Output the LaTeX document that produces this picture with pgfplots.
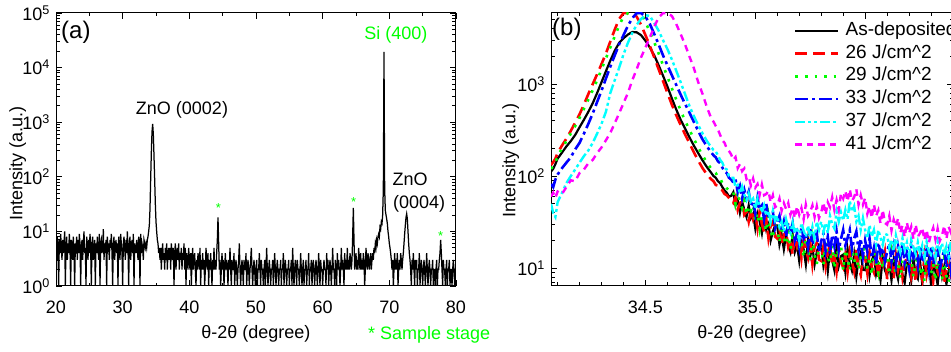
\documentclass[border=0pt]{standalone}
\usepackage{pgfplots}
\usepackage{pgfplotstable}
\pgfplotsset{compat=1.18}
\usepackage{fontspec}
\setmainfont{Liberation Sans}
\definecolor{sgreen}{RGB}{0,255,0}
\definecolor{sred}{RGB}{255,0,0}
\definecolor{sblue}{RGB}{0,0,255}
\definecolor{scyan}{RGB}{0,255,255}
\definecolor{smag}{RGB}{255,0,255}

\pgfplotstableread{
x a b c d e f
34.07 112 132 120 82 50 60
34.08 120 142 128 76 40 66
34.09 135 155 140 92 36 58
34.10 155 178 165 104 52 68
34.12 180 215 200 122 66 64
34.14 210 255 240 140 84 76
34.16 240 310 290 160 100 90
34.18 280 380 350 195 118 88
34.20 340 470 430 230 140 108
34.22 410 600 540 290 165 118
34.24 500 780 680 370 190 138
34.26 620 1000 860 480 230 150
34.28 800 1280 1100 640 290 178
34.30 1050 1650 1450 850 370 205
34.32 1380 2150 1900 1150 500 245
34.34 1800 2900 2500 1550 800 295
34.36 2300 3900 3300 2050 1100 375
34.38 2800 5100 4300 2700 1500 480
34.40 3150 5900 5400 3400 2100 620
34.42 3450 5900 5900 4300 2800 800
34.44 3680 5900 5900 5200 3600 1100
34.46 3650 5400 5900 5900 4400 1450
34.48 3400 4400 5900 5900 5100 1950
34.50 2950 3400 4700 5400 5600 2500
34.52 2500 2600 3700 4500 5500 3200
34.54 2050 1950 2850 3500 4600 4200
34.56 1600 1450 2150 2700 3800 5300
34.58 1230 1080 1600 2050 3000 5900
34.60 940 800 1200 1600 2400 5900
34.62 700 600 900 1250 1850 5500
34.64 530 460 680 980 1400 4500
34.66 410 360 520 770 1050 3500
34.68 330 285 400 610 780 2700
34.70 265 228 320 490 580 2000
34.72 215 182 255 390 450 1500
34.74 178 148 205 310 360 1050
34.76 148 122 168 250 290 780
34.78 125 104 140 210 240 560
34.80 108 92 120 180 205 420
34.81 100 88 112 168 192 390
34.82 96 80 108 160 185 350
34.83 88 79 98 145 168 320
34.84 84 72 95 138 150 280
34.85 76 70 84 124 140 245
34.86 70 64 82 112 122 230
34.87 66 62 74 108 118 200
34.88 60 58 70 96 100 188
34.89 61 54 66 92 96 172
34.90 67 51 67 85 96 150
34.91 48 59 50 92 76 161
34.92 55 43 67 67 80 122
34.93 40 51 51 78 65 135
34.94 53 53 45 57 77 113
34.95 43 38 55 71 63 121
34.96 36 41 38 57 55 93
34.97 48 32 48 68 65 99
34.98 35 43 42 48 53 79
34.99 39 34 48 54 57 94
35.00 27 39 32 39 44 75
35.01 39 27 40 58 57 82
35.02 32 42 27 44 47 63
35.03 24 30 39 48 40 81
35.04 36 25 31 34 48 62
35.05 26 34 25 50 37 64
35.06 30 21 37 34 42 69
35.07 20 29 25 37 32 52
35.08 25 32 21 41 42 62
35.09 29 22 29 27 33 46
35.10 29 21 27 32 37 48
35.11 18 27 19 37 28 57
35.12 23 18 29 25 32 42
35.13 16 23 21 32 25 51
35.14 23 25 18 22 34 44
35.15 18 17 25 31 27 51
35.16 15 20 16 24 24 38
35.17 23 14 22 31 31 45
35.18 15 22 20 20 24 35
35.19 18 17 24 24 28 47
35.20 12 20 15 17 20 38
35.21 19 13 20 28 31 45
35.22 16 23 13 21 25.5 34
35.23 11 16 21 24 22 49
35.24 20 13 16 17 29 37
35.25 13.5 19 12 27 22 41
35.26 17 11 21 18 28 48
35.27 11 17 14 20.4 21 36
35.28 15 19 11 24 32 47
35.29 18 12.4 17.6 15 26 35
35.30 17.5 12 16.4 19.5 32 40
35.31 10.7 17 11 24 24.5 52
35.32 14.6 10.5 19 15.4 31 38
35.33 9.2 15.2 13 22 24 52
35.34 16 17.8 11.4 14.3 37 46
35.35 12.2 10.7 17.6 23 30 59
35.36 9.5 13.3 9.8 17.3 27 43
35.37 17 9.2 16 25 41 55
35.38 10.6 16.4 13.8 15.7 32 43
35.39 13.5 11.6 18.2 20.8 40.5 65
35.40 14 10.2 9.4 26 33 57
35.41 9.1 14 16 17.6 43 69
35.42 16.2 9.1 13.2 21.3 34 53
35.43 11.3 15 9.4 26 54 72
35.44 9.4 11.8 17 16 41 54
35.45 14 9.2 11.6 21 47 59
35.46 8.1 15.9 14.7 25 32 72
35.47 12.7 10.3 9.5 15.5 37 49
35.48 14.8 8.4 13.1 21 26 62
35.49 9.6 13.7 16 13.4 35 49
35.50 9.5 13 16 20 26 58
35.51 13.3 8.8 9.8 15 21 39
35.52 8.3 15 13.3 21 29.5 47
35.53 12 10.3 8.4 12.9 22 35
35.54 14 9 14.9 16.6 26 49
35.55 8.6 14.1 11.3 11.2 18 37
35.56 10.7 7.8 8.9 19 26 42.5
35.57 7.4 12.8 15.8 14.5 21.5 30.5
35.58 13.1 11 9.9 16.7 17.9 43
35.59 9.5 14.9 12.8 11.8 23.6 31
35.60 8.3 7.6 13.1 15 23 29.7
35.61 11.3 13 8.5 18.6 16.7 37
35.62 7.4 10.8 15.3 11.8 20.4 25.7
35.63 12.2 7.7 10.6 16.9 15.3 33.7
35.64 9.6 13.8 8.9 11 22.6 28.3
35.65 7.6 9.5 13.3 17.4 17.6 34.8
35.66 13 12.1 7.7 13 14.9 24.1
35.67 8.5 7.9 12.1 18.6 21.1 29.2
35.68 6.9 10.9 14.2 11.4 15.8 21.8
35.69 11.4 13.5 9.3 14.8 19 31.4
35.70 10.8 13.4 9.2 10.1 13.6 23.9
35.71 7.3 8.2 12.8 17.4 20.3 28.2
35.72 12.6 11.2 8 13.1 16.8 20.7
35.73 8.6 7.1 11.7 15.1 14.2 29.8
35.74 7.7 12.6 13.8 10.6 19.1 22
35.75 11.9 9.5 8.4 17.7 14.5 24
35.76 6.7 7.5 10.5 11.5 17.7 27.5
35.77 10.8 13.4 7.2 13.4 13 20.2
35.78 9.4 8.4 12.9 16 19.4 26.1
35.79 12.6 10.8 9.2 9.9 15.3 18.9
35.80 6.5 11.3 8.2 17.2 14.1 23.5
35.81 11 7.3 11.1 11.1 17.3 27.4
35.82 9.2 13.1 7.3 13 12.9 20.5
35.83 6.6 9.1 12 15.5 19.4 26.8
35.84 11.8 7.7 9.5 9.6 15.4 19.8
35.85 8.1 11.4 7.4 12.8 18.7 22.5
35.86 10.4 6.7 12.9 15.9 13.9 29
35.87 6.7 10.2 8.3 10.2 17.2 20.8
35.88 9.3 12.1 6.9 14.5 13.1 28.2
35.89 11.4 7.8 11.2 9.4 19.7 24.5
35.90 11.4 7.8 10.7 15 15.7 31.2
}\tabB

\begin{document}
\fontsize{18}{21}\selectfont
\begin{tikzpicture}[x=1pt,y=1pt]
\pgfplotsset{
  every axis/.append style={
    scale only axis, height=273pt,
    axis line style={line width=1pt},
    major tick length=6pt, minor tick length=3.5pt,
    every tick/.append style={black, line width=0.8pt},
    tick align=inside,
    tick label style={/pgf/number format/assume math mode=true},
    xticklabel style={yshift=-8.5pt},
    xlabel style={at={(axis description cs:0.5,0)}, anchor=center, yshift=-48pt},
  },
  sA/.style={draw=black, line width=2.2pt},
  sB/.style={draw=sred, line width=2.6pt, dash pattern=on 12pt off 6pt},
  sC/.style={draw=sgreen, line width=2.6pt, dash pattern=on 2.6pt off 7pt},
  sD/.style={draw=sblue, line width=2.6pt, dash pattern=on 13pt off 4pt on 3pt off 4pt},
  sE/.style={draw=scyan, line width=2.4pt, dash pattern=on 10pt off 3pt on 3pt off 3pt on 3pt off 3pt},
  sF/.style={draw=smag, line width=2.4pt, dash pattern=on 6.5pt off 5pt},
}
% ---------------- panel (a)
\begin{axis}[at={(56pt,66pt)}, anchor=south west, width=400pt,
  xmin=20, xmax=80, ymode=log, ymin=1, ymax=100000,
  xtick={20,30,40,50,60,70,80}, minor xtick={25,35,45,55,65,75},
  ytick={1,10,100,1000,10000,100000},
  yticklabels={10\textsuperscript{0},10\textsuperscript{1},10\textsuperscript{2},10\textsuperscript{3},10\textsuperscript{4},10\textsuperscript{5}},
  minor ytick={2,3,4,5,6,7,8,9,20,30,40,50,60,70,80,90,200,300,400,500,600,700,800,900,2000,3000,4000,5000,6000,7000,8000,9000,20000,30000,40000,50000,60000,70000,80000,90000},
  xlabel={θ-2θ (degree)}, ylabel={Intensity (a.u.)},
  ylabel style={at={(axis description cs:-0.096,0.45)}, anchor=center},
]
\addplot[black, line width=1.25pt, no marks] coordinates {
(20.0,6)(20.1,3)(20.2,8)(20.3,5)(20.4,1)(20.5,7)(20.6,4)(20.7,9)(20.8,5)(20.9,3)
(21.0,7)(21.1,4)(21.2,6)(21.3,10)(21.4,1)(21.5,5)(21.6,8)(21.7,3)(21.8,6)(21.9,4)
(22.0,9)(22.1,5)(22.2,1)(22.3,7)(22.4,6)(22.5,3)(22.6,8)(22.7,4)(22.8,1)(22.9,6)
(23.0,5)(23.1,8)(23.2,3)(23.3,7)(23.4,4)(23.5,9)(23.6,6)(23.7,1)(23.8,5)(23.9,7)
(24.0,3)(24.1,6)(24.2,10)(24.3,4)(24.4,5)(24.5,1)(24.6,8)(24.7,6)(24.8,3)(24.9,7)
(25.0,4)(25.1,9)(25.2,5)(25.3,1)(25.4,6)(25.5,8)(25.6,3)(25.7,5)(25.8,7)(25.9,1)
(26.0,6)(26.1,4)(26.2,8)(26.3,5)(26.4,3)(26.5,9)(26.6,1)(26.7,6)(26.8,7)(26.9,4)
(27.0,5)(27.1,11)(27.2,3)(27.3,6)(27.4,4)(27.5,7)(27.6,1)(27.7,8)(27.8,5)(27.9,6)
(28.0,3)(28.1,7)(28.2,5)(28.3,9)(28.4,4)(28.5,1)(28.6,6)(28.7,8)(28.8,3)(28.9,5)
(29.0,7)(29.1,4)(29.2,6)(29.3,1)(29.4,8)(29.5,5)(29.6,3)(29.7,9)(29.8,6)(29.9,4)
(30.0,1)(30.1,6)(30.2,8)(30.3,5)(30.4,3)(30.5,7)(30.6,4)(30.7,10)(30.8,5)(30.9,1)
(31.0,6)(31.1,8)(31.2,3)(31.3,5)(31.4,7)(31.5,4)(31.6,9)(31.7,1)(31.8,6)(31.9,5)
(32.0,4)(32.1,7)(32.2,5)(32.3,3)(32.4,8)(32.5,6)(32.6,1)(32.7,9)(32.8,4)(32.9,6)
(33.0,5)(33.1,3)(33.2,7)(33.3,6)
(33.4,5)(33.5,6)(33.6,5)(33.7,7)(33.8,8)(33.9,10)(34.0,13)(34.1,26)(34.2,90)(34.3,280)
(34.4,660)(34.5,930)(34.6,600)(34.7,240)(34.8,90)(34.9,32)(35.0,15)(35.1,10)(35.2,7)(35.3,6)
(35.4,4)(35.5,5)(35.6,3)(35.7,5)(35.8,2)(35.9,4)
(36.0,6)(36.1,3)(36.2,4)(36.3,2)(36.4,5)(36.5,3)(36.6,6)(36.7,2)(36.8,4)(36.9,5)
(37.0,3)(37.1,5)(37.2,2)(37.3,6)(37.4,4)(37.5,3)(37.6,5)(37.7,1)(37.8,4)(37.9,6)
(38.0,2)(38.1,4)(38.2,5)(38.3,3)(38.4,6)(38.5,2)(38.6,4)(38.7,3)(38.8,5)(38.9,2)
(39.0,4)(39.1,3)(39.2,6)(39.3,2)(39.4,5)(39.5,1)(39.6,4)(39.7,3)(39.8,2)(39.9,5)
(40.0,3)(40.1,2)(40.2,4)(40.3,1)(40.4,3)(40.5,5)(40.6,2)(40.7,3)(40.8,4)(40.9,2)
(41.0,1)(41.1,3)(41.2,2)(41.3,4)(41.4,3)(41.5,2)(41.6,5)(41.7,1)(41.8,3)(41.9,2)
(42.0,4)(42.1,2)(42.2,3)(42.3,1)(42.4,2)(42.5,5)(42.6,3)(42.7,2)(42.8,4)(42.9,1)
(43.0,3)(43.1,2)(43.2,4)(43.3,2)(43.4,1)(43.5,3)(43.6,2)(43.7,5)(43.8,2)(43.9,3)
(44.0,2)(44.1,4)(44.2,7)(44.3,18)(44.4,6)(44.5,2)(44.6,3)(44.7,1)(44.8,2)(44.9,4)
(45.0,2)(45.1,3)(45.2,1)(45.3,2)(45.4,4)(45.5,2)(45.6,3)(45.7,2)(45.8,1)(45.9,3)
(46.0,2)(46.1,5)(46.2,2)(46.3,1)(46.4,3)(46.5,2)(46.6,2)(46.7,4)(46.8,1)(46.9,2)
(47.0,3)(47.1,2)(47.2,1)(47.3,2)(47.4,3)(47.5,6)(47.6,2)(47.7,1)(47.8,2)(47.9,3)
(48.0,2)(48.1,1)(48.2,3)(48.3,2)(48.4,2)(48.5,4)(48.6,1)(48.7,2)(48.8,3)(48.9,2)
(49.0,1)(49.1,2)(49.2,3)(49.3,5)(49.4,2)(49.5,1)(49.6,2)(49.7,3)(49.8,2)(49.9,1)
(50.0,2)(50.1,3)(50.2,1)(50.3,2)(50.4,2)(50.5,4)(50.6,2)(50.7,1)(50.8,3)(50.9,2)
(51.0,2)(51.1,1)(51.2,2)(51.3,3)(51.4,1)(51.5,2)(51.6,5)(51.7,2)(51.8,1)(51.9,2)
(52.0,3)(52.1,2)(52.2,1)(52.3,2)(52.4,2)(52.5,3)(52.6,1)(52.7,2)(52.8,4)(52.9,2)
(53.0,1)(53.1,2)(53.2,3)(53.3,2)(53.4,1)(53.5,2)(53.6,2)(53.7,3)(53.8,1)(53.9,2)
(54.0,2)(54.1,4)(54.2,1)(54.3,2)(54.4,3)(54.5,2)(54.6,1)(54.7,2)(54.8,2)(54.9,3)
(55.0,1)(55.1,2)(55.2,2)(55.3,3)(55.4,1)(55.5,5)(55.6,2)(55.7,1)(55.8,2)(55.9,3)
(56.0,2)(56.1,1)(56.2,3)(56.3,2)(56.4,2)(56.5,1)(56.6,2)(56.7,4)(56.8,2)(56.9,1)
(57.0,2)(57.1,3)(57.2,1)(57.3,2)(57.4,2)(57.5,3)(57.6,1)(57.7,2)(57.8,2)(57.9,4)
(58.0,1)(58.1,2)(58.2,2)(58.3,3)(58.4,1)(58.5,2)(58.6,3)(58.7,2)(58.8,1)(58.9,2)
(59.0,3)(59.1,2)(59.2,1)(59.3,2)(59.4,4)(59.5,2)(59.6,1)(59.7,3)(59.8,2)(59.9,2)
(60.0,1)(60.1,2)(60.2,3)(60.3,2)(60.4,2)(60.5,1)(60.6,4)(60.7,2)(60.8,3)(60.9,1)
(61.0,2)(61.1,3)(61.2,2)(61.3,1)(61.4,2)(61.5,5)(61.6,2)(61.7,2)(61.8,1)(61.9,3)
(62.0,2)(62.1,1)(62.2,4)(62.3,2)(62.4,3)(62.5,2)(62.6,1)(62.7,2)(62.8,5)(62.9,2)
(63.0,3)(63.1,2)(63.2,1)(63.3,4)(63.4,2)(63.5,3)(63.6,2)(63.7,5)(63.8,2)(63.9,3)
(64.0,2)(64.1,4)(64.2,3)(64.3,2)(64.4,3)(64.5,8)(64.6,27)(64.7,7)(64.8,2)(64.9,3)
(65.0,4)(65.1,2)(65.2,3)(65.3,2)(65.4,5)(65.5,3)(65.6,2)(65.7,4)(65.8,2)(65.9,3)
(66.0,2)(66.1,4)(66.2,3)(66.3,1)(66.4,2)(66.5,5)(66.6,3)(66.7,2)(66.8,4)(66.9,3)
(67.0,2)(67.1,3)(67.2,4)(67.3,2)(67.4,3)(67.5,4)(67.6,3)(67.7,5)(67.8,4)(67.9,6)
(68.0,5)(68.1,7)(68.2,6)(68.3,8)(68.4,9)(68.5,8)(68.6,12)(68.7,11)(68.8,15)(68.9,14)
(69.0,20)(69.1,60)(69.15,900)(69.2,19500)(69.25,900)(69.3,60)(69.4,24)(69.5,20)(69.6,17)(69.7,14)
(69.8,10)(69.9,8)(70.0,6)(70.1,5)(70.2,4)(70.3,3)(70.4,2)(70.5,3)(70.6,1)(70.7,2)(70.8,4)(70.9,2)
(71.0,3)(71.1,2)(71.2,4)(71.3,1)(71.4,2)(71.5,3)(71.6,2)(71.7,4)(71.8,3)(71.9,2)
(72.0,3)(72.1,4)(72.2,6)(72.3,9)(72.4,13)(72.5,18)(72.6,21)(72.7,17)(72.8,10)(72.9,6)
(73.0,4)(73.1,3)(73.2,2)(73.3,1)(73.4,3)(73.5,2)(73.6,4)(73.7,2)(73.8,1)(73.9,3)
(74.0,2)(74.1,3)(74.2,1)(74.3,2)(74.4,2)(74.5,4)(74.6,1)(74.7,2)(74.8,3)(74.9,2)
(75.0,1)(75.1,2)(75.2,3)(75.3,2)(75.4,1)(75.5,2)(75.6,4)(75.7,2)(75.8,1)(75.9,2)
(76.0,3)(76.1,2)(76.2,1)(76.3,2)(76.4,2)(76.5,3)(76.6,1)(76.7,2)(76.8,2)(76.9,1)
(77.0,2)(77.1,3)(77.2,1)(77.3,2)(77.4,2)(77.5,3)(77.6,4)(77.7,7)(77.8,4)(77.9,2)
(78.0,1)(78.1,3)(78.2,2)(78.3,2)(78.4,1)(78.5,2)(78.6,3)(78.7,1)(78.8,2)(78.9,2)
(79.0,3)(79.1,1)(79.2,2)(79.3,2)(79.4,1)(79.5,2)(79.6,3)(79.7,2)(79.8,1)(79.9,2)
(80.0,2)
};
\end{axis}
% ---------------- panel (b)
\begin{axis}[at={(551pt,66pt)}, anchor=south west, width=402pt,
  xmin=34.07, xmax=35.9, ymode=log, ymin=6.4, ymax=5920,
  xtick={34.5,35,35.5},
  minor xtick={34.1,34.2,34.3,34.4,34.6,34.7,34.8,34.9,35.1,35.2,35.3,35.4,35.6,35.7,35.8,35.9},
  xticklabel style={/pgf/number format/.cd, fixed, fixed zerofill, precision=1},
  ytick={10,100,1000},
  yticklabels={10\textsuperscript{1},10\textsuperscript{2},10\textsuperscript{3}},
  minor ytick={7,8,9,20,30,40,50,60,70,80,90,200,300,400,500,600,700,800,900,2000,3000,4000,5000},
  xlabel={θ-2θ (degree)}, ylabel={Intensity (a.u.)},
  ylabel style={at={(axis description cs:-0.1,0.46)}, anchor=center},
  legend cell align=left,
  legend image code/.code={\draw[#1] (0pt,0pt) -- (43pt,0pt);},
  legend style={at={(0.6045,0.9674)}, anchor=north west, draw=none, fill=none,
    inner sep=0pt, outer sep=0pt, row sep=5.3pt, column sep=6pt,
    font=\fontsize{19}{22}\selectfont,
    nodes={inner sep=0pt, text height=13.5pt, text depth=4pt}},
]
\addlegendimage{sA}
\addlegendentry{As-deposited}
\addlegendimage{sB}
\addlegendentry{26 J/cm\textasciicircum 2}
\addlegendimage{sC}
\addlegendentry{29 J/cm\textasciicircum 2}
\addlegendimage{sD}
\addlegendentry{33 J/cm\textasciicircum 2}
\addlegendimage{sE}
\addlegendentry{37 J/cm\textasciicircum 2}
\addlegendimage{sF}
\addlegendentry{41 J/cm\textasciicircum 2}
\addplot[forget plot, sA, no marks] table[x=x,y=a]{\tabB};
\addplot[forget plot, sB, no marks] table[x=x,y=b]{\tabB};
\addplot[forget plot, sC, no marks] table[x=x,y=c]{\tabB};
\addplot[forget plot, sD, no marks] table[x=x,y=d]{\tabB};
\addplot[forget plot, sE, no marks] table[x=x,y=e]{\tabB};
\addplot[forget plot, sF, no marks] table[x=x,y=f]{\tabB};
\end{axis}
% ---------------- annotations
\node[anchor=base west, inner sep=0pt, font=\fontsize{24}{28}\selectfont] at (61,313.2) {(a)};
\node[anchor=base west, inner sep=0pt, font=\fontsize{24}{28}\selectfont] at (552,316.4) {(b)};
\node[anchor=base, inner sep=0pt] at (182,237.7) {ZnO (0002)};
\node[anchor=base, inner sep=0pt, text=sgreen] at (396,312.7) {Si (400)};
\node[anchor=base west, inner sep=0pt] at (392.5,166.7) {ZnO};
\node[anchor=base west, inner sep=0pt] at (393,143.7) {(0004)};
\node[anchor=center, inner sep=0pt, text=sgreen, font=\fontsize{13}{15}\selectfont] at (218.3,143.5) {*};
\node[anchor=center, inner sep=0pt, text=sgreen, font=\fontsize{13}{15}\selectfont] at (353.7,150.2) {*};
\node[anchor=center, inner sep=0pt, text=sgreen, font=\fontsize{13}{15}\selectfont] at (440.7,116.2) {*};
\node[anchor=base west, inner sep=0pt, text=sgreen] at (368,12) {* Sample stage};
\pgfresetboundingbox
\path[use as bounding box] (0,0) rectangle (951,352);
\end{tikzpicture}
\end{document}
